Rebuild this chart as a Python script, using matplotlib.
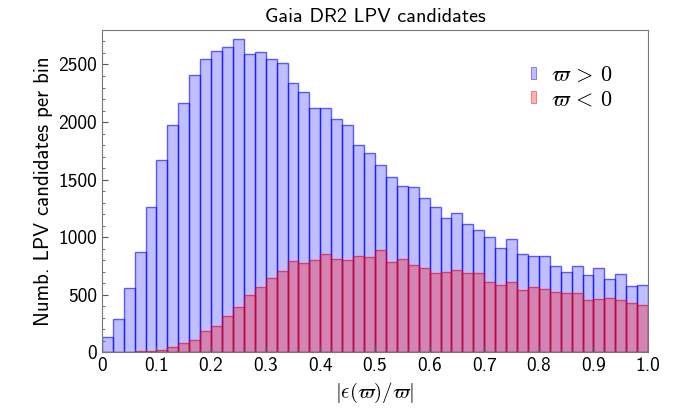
import matplotlib
matplotlib.use("Agg")
import matplotlib.pyplot as plt
import numpy as np
from matplotlib.ticker import MultipleLocator

plt.rcParams["mathtext.fontset"] = "cm"
plt.rcParams["font.family"] = ["cmss10", "DejaVu Sans"]
plt.rcParams["axes.unicode_minus"] = False

# bin edges 0..1, width 0.02
bin_edges = np.linspace(0.0, 1.0, 51)

pos_counts = [
    132, 288, 557, 872, 1260, 1668, 1975, 2168, 2406, 2545,
    2614, 2649, 2721, 2588, 2606, 2545, 2510, 2342, 2261, 2125,
    2125, 2024, 1975, 1798, 1734, 1625, 1521, 1443, 1434, 1344,
    1263, 1165, 1208, 1113, 1061, 1000, 907, 985, 855, 838,
    838, 748, 696, 754, 673, 731, 635, 679, 577, 586,
]
neg_counts = [
    0, 0, 7, 10, 13, 22, 45, 80, 108, 187,
    227, 317, 398, 499, 566, 647, 705, 792, 774, 803,
    855, 812, 806, 840, 826, 887, 783, 814, 757, 731,
    687, 696, 713, 687, 687, 615, 583, 615, 545, 566,
    554, 525, 516, 516, 458, 462, 476, 456, 427, 410,
]

fig = plt.figure(figsize=(6.88, 4.16), dpi=100)
ax = fig.add_axes([0.148, 0.153, 0.794, 0.775])

left = bin_edges[:-1]
width = np.diff(bin_edges)
ax.bar(left, pos_counts, width=width, align="edge",
       facecolor=(0.0, 0.0, 1.0, 0.25), edgecolor=(0.0, 0.0, 1.0, 0.6),
       linewidth=1.0, label=r"$\varpi\,>\,0$")
ax.bar(left, neg_counts, width=width, align="edge",
       facecolor=(1.0, 0.0, 0.0, 0.3), edgecolor=(0.9, 0.0, 0.1, 0.6),
       linewidth=1.0, label=r"$\varpi\,<\,0$")

ax.set_xlim(0, 1.0)
ax.set_ylim(0, 2800)
ax.xaxis.set_minor_locator(MultipleLocator(0.02))
ax.yaxis.set_major_locator(MultipleLocator(500))
ax.yaxis.set_minor_locator(MultipleLocator(100))
ax.set_xticks(np.arange(0, 1.01, 0.1))
ax.set_xticklabels(["0"] + [f"{v:.1f}" for v in np.arange(0.1, 1.01, 0.1)])
ax.tick_params(which="both", direction="in", top=False, right=False,
               labelsize=14, color="#555555")
ax.tick_params(which="major", length=4)
ax.tick_params(which="minor", length=2)
for s in ax.spines.values():
    s.set_color("#777777")

ax.set_xlabel(r"$|\epsilon(\varpi)/\varpi|$", fontsize=15)
ax.set_ylabel("Numb. LPV candidates per bin", fontsize=15)
ax.set_title("Gaia DR2 LPV candidates", fontsize=14.5)

leg = ax.legend(loc="upper right", frameon=False, fontsize=16,
                handlelength=0.2, handleheight=0.45, handletextpad=0.7,
                borderaxespad=1.2, labelspacing=0.25)
for h in leg.legend_handles:
    h.set_linewidth(0.5)

fig.savefig("out.png", dpi=100)
